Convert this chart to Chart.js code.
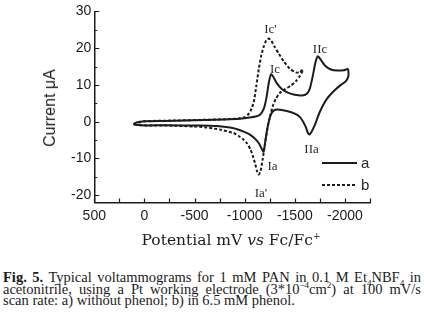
<!DOCTYPE html>
<html>
<head>
<meta charset="utf-8">
<script src="https://cdn.jsdelivr.net/npm/chart.js@4.4.1/dist/chart.umd.min.js"></script>
<style>
  html, body { margin: 0; padding: 0; background: #fff; }
  #wrap { position: relative; width: 424px; height: 323px; overflow: hidden; background: #fff; color: #1c1c1c; }
  #chart-box { position: absolute; left: 0; top: 0; width: 424px; height: 250px; }
  .ytitle { position: absolute; left: 50px; top: 108px; transform: translate(-50%, -50%) rotate(-90deg);
            font-family: "Liberation Sans", Arial, sans-serif; font-size: 16px; white-space: nowrap; }
  .xtitle { position: absolute; left: 231px; top: 240px; transform: translate(-50%, -50%);
            font-family: "DejaVu Serif", serif; font-size: 15.5px; white-space: nowrap; }
  .caption { position: absolute; left: 3px; top: 272px; width: 418px;
             font-family: "Liberation Serif", "Times New Roman", serif; font-size: 14.5px; line-height: 11.5px; }
  .caption .j { text-align: justify; text-align-last: justify; }
  sub, sup { font-size: 9px; line-height: 0; }
</style>
</head>
<body>
<div id="wrap">
  <div id="chart-box"><canvas id="cv" width="424" height="250"></canvas></div>
  <div class="ytitle">Current μA</div>
  <div class="xtitle">Potential mV <i>vs</i> Fc/Fc<sup>+</sup></div>
  <div class="caption">
    <div class="j"><b>Fig. 5.</b> Typical voltammograms for 1 mM PAN in 0.1 M Et<sub>4</sub>NBF<sub>4</sub> in</div>
    <div class="j">acetonitrile, using a Pt working electrode (3*10<sup>−4</sup>cm<sup>2</sup>) at 100 mV/s</div>
    <div>scan rate: a) without phenol; b) in 6.5 mM phenol.</div>
  </div>
</div>
<script>
// curve a: without phenol (potential mV, current uA), forward then reverse scan
const potA = [110, 80, 0, -200, -400, -600, -800, -950, -1050, -1110,
  -1150, -1190, -1215, -1240, -1262, -1285, -1320, -1370, -1430, -1500,
  -1570, -1620, -1650, -1680, -1705, -1730, -1760, -1800, -1860, -1930,
  -1990, -2030, -2035, -2010, -1960, -1900, -1820, -1750, -1700, -1670,
  -1648, -1630, -1610, -1583, -1550, -1500, -1420, -1330, -1290, -1262,
  -1245, -1225, -1205, -1188, -1170, -1140, -1090, -1040, -990, -890,
  -720, -550, -200, 50, 110];
const currA = [-0.7, -0.2, 0.1, 0.2, 0.3, 0.45, 0.6, 0.8, 1.1, 1.4,
  1.8, 3.5, 6.2, 10.5, 12.9, 12.2, 10.5, 8.9, 7.9, 7.3,
  7.1, 7.6, 9, 12.5, 16, 17.8, 16.8, 15.3, 14.2, 13.9,
  14.0, 14.3, 12.5, 11.0, 10.0, 8.6, 6.2, 2.7, -0.9, -2.6,
  -3.5, -3.0, -1.5, 0, 1.3, 2.2, 2.9, 3.3, 3.0, 2.0,
  0.5, -2.0, -5.5, -8.2, -7.4, -5.8, -4.3, -3.3, -2.7, -1.8,
  -1.2, -1.05, -1.0, -1.0, -0.7];

// curve b: in 6.5 mM phenol
const potB = [110, 0, -300, -600, -850, -950, -1000, -1030, -1060, -1090,
  -1115, -1140, -1165, -1190, -1215, -1240, -1265, -1300, -1340, -1390,
  -1450, -1510, -1550, -1580, -1575, -1550, -1510, -1460, -1400, -1350,
  -1310, -1285, -1262, -1240, -1220, -1200, -1178, -1158, -1140, -1122,
  -1105, -1080, -1057, -1020, -990, -940, -890, -760, -600, -490,
  -300, 0, 110];
const currB = [-0.7, 0.1, 0.3, 0.5, 0.7, 0.9, 1.2, 1.8, 3.0, 5.3,
  9.5, 14.2, 18.0, 20.4, 22.1, 22.6, 22.0, 20.3, 18.5, 16.4,
  14.4, 13.4, 13.4, 14.2, 13.6, 12.4, 11.0, 9.8, 8.8, 7.8,
  6.2, 4.6, 2.4, 0, -3.0, -6.5, -10.5, -13.5, -14.4, -13.4,
  -11.5, -9.2, -7.5, -5.8, -4.9, -3.9, -3.1, -2.2, -1.5, -1.3,
  -1.1, -1.0, -0.7];

const xTicks = [500, 0, -500, -1000, -1500, -2000];
const yTicks = [-20, -10, 0, 10, 20, 30];

// peak labels and where they sit (in data units)
const peakNames = ["Ic'", 'Ic', 'IIc', 'IIa', 'Ia', "Ia'"];
const peakPot = [-1257, -1302, -1752, -1667, -1277, -1162];
const peakCurr = [25.1, 14.3, 19.5, -7.7, -12.3, -19.7];

const legendNames = ['a', 'b'];

const ink = '#1c1c1c';

const toPts = (xs, ys) => xs.map((v, i) => ({ x: v, y: ys[i] }));

// ticks point into the plot, so draw them ourselves
const innerTicks = {
  id: 'innerTicks',
  afterDraw(chart) {
    const { ctx, chartArea: a, scales: { x, y } } = chart;
    ctx.save();
    ctx.strokeStyle = ink;
    ctx.lineWidth = 1.2;
    ctx.beginPath();
    for (let v = 500; v >= -2250; v -= 250) {
      const px = Math.round(x.getPixelForValue(v)) + 0.5;
      ctx.moveTo(px, a.bottom);
      ctx.lineTo(px, a.bottom - 4);
    }
    for (let v = -20; v <= 30; v += 5) {
      const py = Math.round(y.getPixelForValue(v)) + 0.5;
      ctx.moveTo(a.left, py);
      ctx.lineTo(a.left + (v % 10 === 0 ? 5 : 3), py);
    }
    ctx.stroke();

    // peak labels
    ctx.fillStyle = '#2a2a2a';
    ctx.font = '13px "Liberation Serif", "Times New Roman", serif';
    ctx.textAlign = 'center';
    ctx.textBaseline = 'middle';
    peakNames.forEach((t, i) => {
      ctx.fillText(t, x.getPixelForValue(peakPot[i]), y.getPixelForValue(peakCurr[i]));
    });

    // legend, bottom right of the plot
    const lx0 = a.right - 48, lx1 = a.right - 13;
    const ly = [a.bottom - 39.5, a.bottom - 17.5];
    ctx.lineWidth = 2;
    chart.data.datasets.forEach((ds, i) => {
      ctx.setLineDash(ds.borderDash || []);
      ctx.beginPath();
      ctx.moveTo(lx0, ly[i]);
      ctx.lineTo(lx1, ly[i]);
      ctx.stroke();
    });
    ctx.setLineDash([]);
    ctx.font = '15px "Liberation Sans", Arial, sans-serif';
    ctx.textAlign = 'left';
    legendNames.forEach((t, i) => ctx.fillText(t, lx1 + 4, ly[i] + 0.5));
    ctx.restore();
  }
};

new Chart(document.getElementById('cv'), {
  type: 'scatter',
  data: {
    datasets: [
      { label: 'a', data: toPts(potA, currA), showLine: true, borderColor: ink, borderWidth: 2,
        pointRadius: 0, tension: 0.2, fill: false },
      { label: 'b', data: toPts(potB, currB), showLine: true, borderColor: ink, borderWidth: 2,
        borderDash: [3, 2], pointRadius: 0, tension: 0.2, fill: false }
    ]
  },
  options: {
    responsive: false,
    animation: false,
    maintainAspectRatio: false,
    layout: { padding: { left: 0, right: 54, top: 7.5, bottom: 0 } },
    plugins: { legend: { display: false }, tooltip: { enabled: false } },
    scales: {
      x: {
        type: 'linear', reverse: true, min: -2250, max: 500,
        afterBuildTicks: s => { s.ticks = xTicks.map(v => ({ value: v })); },
        afterFit: s => { s.height = 47.5; },
        grid: { display: false, drawTicks: false },
        border: { display: true, color: ink, width: 1.5 },
        ticks: { color: ink, padding: 5, maxRotation: 0, autoSkip: false,
                 callback: v => String(v),
                 font: { family: '"Liberation Sans", Arial, sans-serif', size: 14 } }
      },
      y: {
        type: 'linear', min: -22, max: 30,
        afterBuildTicks: s => { s.ticks = yTicks.map(v => ({ value: v })); },
        afterFit: s => { s.width = 94.3; },
        grid: { display: false, drawTicks: false },
        border: { display: true, color: ink, width: 1.5 },
        ticks: { color: ink, padding: 3, autoSkip: false,
                 callback: v => String(v),
                 font: { family: '"Liberation Sans", Arial, sans-serif', size: 14 } }
      }
    }
  },
  plugins: [innerTicks]
});
</script>
</body>
</html>
